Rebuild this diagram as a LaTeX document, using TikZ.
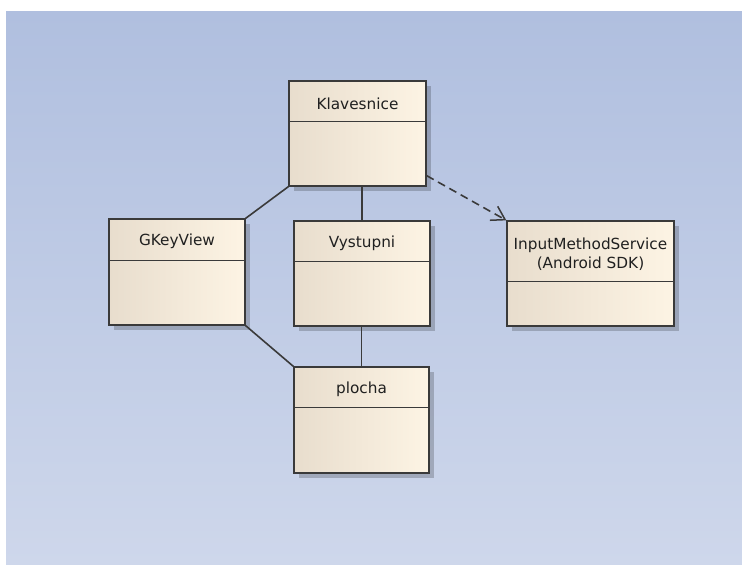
\documentclass[tikz,border=0pt]{standalone}
\usepackage{fontspec}
\setmainfont{DejaVu Sans}
\usetikzlibrary{shadows,arrows.meta,calc}
\definecolor{bgtop}{HTML}{B0BFDF}
\definecolor{bgbot}{HTML}{CED7EB}
\definecolor{boxl}{HTML}{E8DDCD}
\definecolor{boxr}{HTML}{FDF4E4}
\definecolor{edge}{HTML}{3A3A3A}
\definecolor{txt}{HTML}{202020}
\tikzset{
  umlbox/.style={draw=edge, line width=1.3pt, left color=boxl, right color=boxr,
    shading angle=90, inner sep=0pt, rectangle,
    drop shadow={shadow xshift=5pt, shadow yshift=-5pt, opacity=0.2, fill=black}},
  umllabel/.style={text=txt, font=\fontsize{15.3}{19}\selectfont, align=center, inner sep=0pt},
  divider/.style={draw=edge, line width=1.4pt},
  assoc/.style={draw=edge, line width=1.6pt},
  depend/.style={draw=edge, line width=1.6pt, dash pattern=on 8pt off 5pt,
    -{Straight Barb[length=13pt,width=16pt,line width=1.5pt]}}
}
\begin{document}
\begin{tikzpicture}[x=1pt,y=-1pt]
\useasboundingbox (0,0) rectangle (742,565);
\shade[top color=bgtop, bottom color=bgbot] (6,11) rectangle (742,565);

\node[umlbox, minimum width=137pt, minimum height=105pt] (kl) at (357.5,133.5) {};
\node[umlbox, minimum width=167pt, minimum height=105pt] (im) at (590.5,273.5) {};
\node[umlbox, minimum width=136pt, minimum height=106pt] (gk) at (177,272) {};
\node[umlbox, minimum width=136pt, minimum height=105pt] (vy) at (362,273.5) {};
\node[umlbox, minimum width=135pt, minimum height=106pt] (pl) at (361.5,420) {};

\coordinate (kld) at ($(kl.north west)+(0,41)$);
\coordinate (imd) at ($(im.north west)+(0,61)$);
\coordinate (gkd) at ($(gk.north west)+(0,42)$);
\coordinate (vyd) at ($(vy.north west)+(0,41)$);
\coordinate (pld) at ($(pl.north west)+(0,41)$);
\draw[divider] (kld) -- (kld -| kl.east);
\draw[divider] (imd) -- (imd -| im.east);
\draw[divider] (gkd) -- (gkd -| gk.east);
\draw[divider] (vyd) -- (vyd -| vy.east);
\draw[divider] (pld) -- (pld -| pl.east);

\node[umllabel] (klt) at ($(kl.north)+(0,23)$) {Klavesnice};
\node[umllabel] (imt) at ($(im.north)+(0,34)$) {InputMethodService\\(Android SDK)};
\node[umllabel] (gkt) at ($(gk.north)+(0,23)$) {GKeyView};
\node[umllabel] (vyt) at ($(vy.north)+(0,23)$) {Vystupni};
\node[umllabel] (plt) at ($(pl.north)+(0,23)$) {plocha};

\draw[assoc] (kl.south west) -- (gk.north east);
\draw[assoc] (vy.north |- kl.south) -- (vy.north);
\draw[assoc] (vy.south -| pl.north) -- (pl.north);
\draw[assoc] (gk.south east) -- (pl.north west);
\coordinate (klr) at ($(kl.south east)+(0,-11)$);
\draw[depend] (klr) -- (im.north west);
\end{tikzpicture}
\end{document}
